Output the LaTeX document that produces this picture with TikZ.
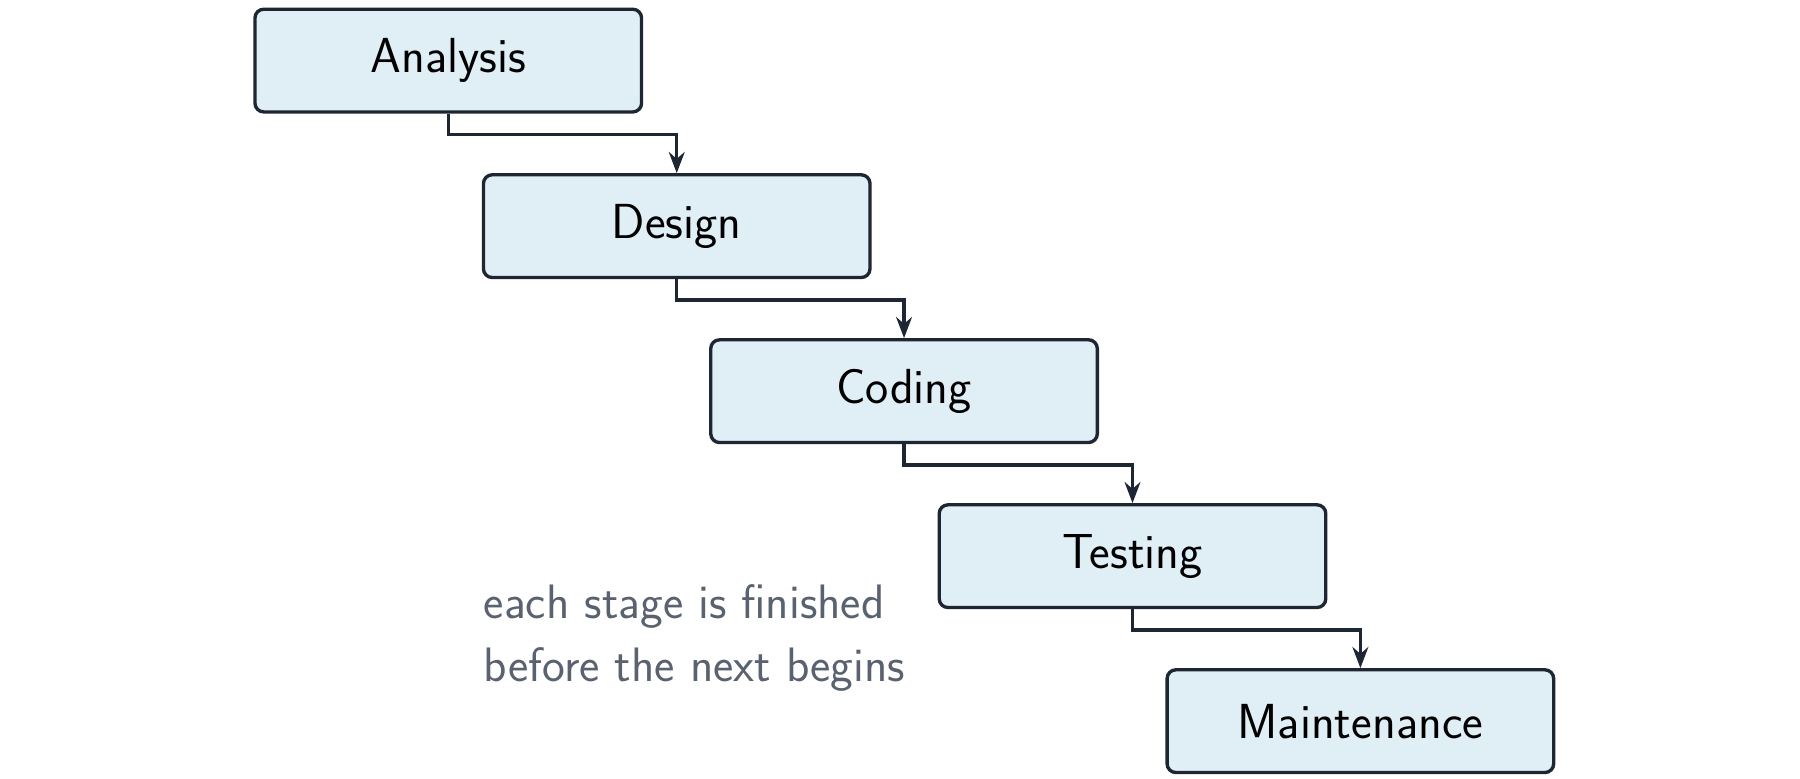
\documentclass[tikz,border=0pt]{standalone}
\usetikzlibrary{arrows.meta}
\definecolor{boxfill}{HTML}{E0EEF5}
\definecolor{boxline}{HTML}{1E2633}
\definecolor{notecol}{HTML}{5A6270}
\begin{document}
\begin{tikzpicture}[x=0.023077cm,y=-0.023077cm,
  stage/.style={draw=boxline,fill=boxfill,line width=1.9pt,rounded corners=5pt,minimum width=7.73cm,minimum height=2.054cm,font=\sffamily\fontsize{28}{34}\selectfont,text=black},
  flow/.style={draw=boxline,line width=1.9pt,-{Stealth[length=12pt,width=9pt]}},
  note/.style={font=\sffamily\fontsize{27.5}{36}\selectfont,text=notecol,align=left,anchor=north west}]
\useasboundingbox (0,0) rectangle (1560,675);
\node[stage] (a) at (388.5,52.5) {Analysis};
\node[stage] (d) at (586.5,196) {Design};
\node[stage] (c) at (783.5,339) {Coding};
\node[stage] (t) at (981.5,482) {Testing};
\node[stage] (m) at (1179,625) {Maintenance};
\draw[flow] (a.south) -- ++(0,18) -| (d.north);
\draw[flow] (d.south) -- ++(0,18) -| (c.north);
\draw[flow] (c.south) -- ++(0,18) -| (t.north);
\draw[flow] (t.south) -- ++(0,18) -| (m.north);
\node[note] (n) at (414,501) {each stage is finished\\before the next begins};
\end{tikzpicture}
\end{document}
